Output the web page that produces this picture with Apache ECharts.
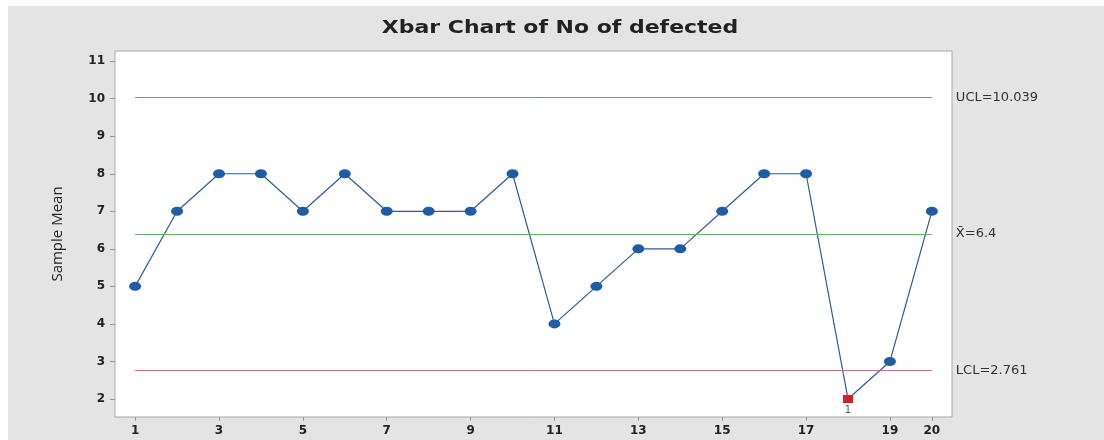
<!DOCTYPE html>
<html>
<head>
<meta charset="utf-8">
<script src="https://cdn.jsdelivr.net/npm/echarts@6/dist/echarts.min.js"></script>
<style>html,body{margin:0;padding:0;background:#fff}#c{width:1104px;height:440px}</style>
</head>
<body>
<div id="c"></div>
<script>
const samples = [1,2,3,4,5,6,7,8,9,10,11,12,13,14,15,16,17,18,19,20];
const means = [5,7,8,8,7,8,7,7,7,8,4,5,6,6,7,8,8,2,3,7];
const xTicks = [1,3,5,7,9,11,13,15,17,19,20];
const yTicks = [2,3,4,5,6,7,8,9,10,11];
const UCL = 10.039, CL = 6.4, LCL = 2.761;
const outOfControl = [18];
const titleText = 'Xbar Chart of No of defected';

const chart = echarts.init(document.getElementById('c'));
const pts = samples.map((s, i) => {
  const bad = outOfControl.includes(s);
  return bad ? {
    value: [s, means[i]], symbol: 'rect', symbolSize: [10, 8],
    itemStyle: {color: '#d4202a'},
    label: {show: true, position: 'bottom', distance: 2, formatter: '1', color: '#3d6a3d', fontSize: 10, fontFamily: 'DejaVu Sans'}
  } : {value: [s, means[i]]};
});
function ctrl(v, color, text) {
  return [{coord: [1, v], lineStyle: {color: color, width: 1, type: 'solid', opacity: 1},
    label: {show: true, position: 'end', formatter: text, distance: 24, color: '#333', fontSize: 13, fontFamily: 'DejaVu Sans', align: 'left'}},
    {coord: [20, v]}];
}
chart.setOption({
  backgroundColor: '#ffffff',
  animation: false,
  graphic: [
    {type: 'rect', z: -10, shape: {x: 8, y: 6, width: 1096, height: 434}, style: {fill: '#e4e4e4'}},
    {type: 'text', x: 560, y: 28, scaleX: 1.22, style: {text: titleText, font: 'bold 18px "DejaVu Sans"', fill: '#222', align: 'center', verticalAlign: 'middle'}}
  ],
  grid: {left: 115, right: 152, top: 51, bottom: 23, show: true, backgroundColor: '#ffffff', borderColor: '#a8a8a8', borderWidth: 1},
  xAxis: {type: 'value', min: 0.52, max: 20.48,
    axisLine: {show: false}, splitLine: {show: false},
    axisTick: {show: true, length: 4, lineStyle: {color: '#999'}, customValues: xTicks},
    axisLabel: {customValues: xTicks, margin: 8, color: '#222', fontSize: 12, fontWeight: 'bold', fontFamily: 'DejaVu Sans'}},
  yAxis: {type: 'value', min: 1.52, max: 11.27,
    name: 'Sample Mean', nameLocation: 'middle', nameGap: 50,
    nameTextStyle: {fontFamily: 'Open Sans', fontSize: 15, color: '#222'},
    axisLine: {show: false}, splitLine: {show: false},
    axisTick: {show: true, length: 5, lineStyle: {color: '#999'}, customValues: yTicks},
    axisLabel: {customValues: yTicks, margin: 10, color: '#222', fontSize: 12, fontWeight: 'bold', fontFamily: 'DejaVu Sans'}},
  series: [{
    type: 'line', data: pts, symbol: 'circle', symbolSize: [12, 9],
    itemStyle: {color: '#1f5ca6'}, lineStyle: {color: '#2d5b93', width: 1.2},
    markLine: {silent: true, symbol: 'none', animation: false,
      data: [ctrl(UCL, '#c9707a', 'UCL=10.039'), ctrl(CL, '#6fae6f', 'X\u0304=6.4'), ctrl(LCL, '#c9707a', 'LCL=2.761')]}
  }]
});
</script>
</body>
</html>
